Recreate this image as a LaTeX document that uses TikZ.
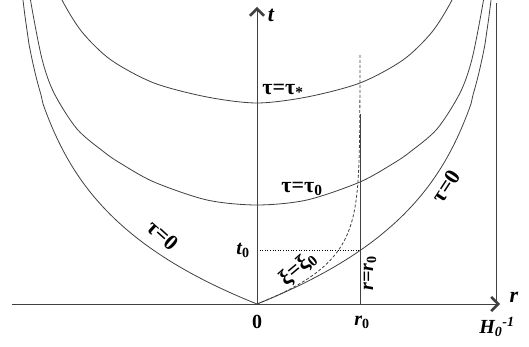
\documentclass[tikz,border=0pt]{standalone}
\usepackage{fontspec}
\setmainfont{Liberation Serif}
\usetikzlibrary{arrows.meta}
\begin{document}
\begin{tikzpicture}[x=1pt,y=1pt,
  curve/.style={line width=0.8pt, black!75},
  axisline/.style={line width=0.9pt, black!75},
  tip/.style={-{Straight Barb[length=7pt,width=14pt,line width=2.6pt]}},
  lab/.style={font=\fontsize{20}{20}\selectfont\bfseries, inner sep=0pt},
  glab/.style={font=\fontsize{22}{22}\selectfont\bfseries, inner sep=0pt}
]
\useasboundingbox (-257,-43) rectangle (272,304);
\coordinate (O) at (0,0);
\coordinate (rend) at (243,0);
\coordinate (rstart) at (-245,0);
\coordinate (tend) at (0,297);
\coordinate (Hb) at (239,0);
\coordinate (Ht) at (239,301);
\coordinate (r0b) at (103,0);
\coordinate (r0t) at (103,190);
\coordinate (t0) at (0,53.4);
\coordinate (p0) at (103,53.4);

\begin{scope}
\clip (-257,-43) rectangle (272,304);
\draw[curve] plot[domain=-236:236, samples=237] (\x, {-98*ln(1-abs(\x)/245)});
\draw[curve] plot[smooth] coordinates {(-228,320) (-226,301) (-215,245) (-203,211) (-180,175) (-153,152) (-137,141) (-103,122) (-50,104) (0,99) (50,104) (103,122) (137,141) (153,152) (180,175) (203,211) (215,245) (226,301) (228,320)};
\draw[curve] plot[smooth] coordinates {(-205,330) (-195,304) (-175,272) (-146,244) (-103,221) (-50,207) (0,201) (50,207) (103,221) (146,244) (175,272) (195,304) (205,330)};
\end{scope}

\draw[curve, dash pattern=on 3pt off 2pt] plot[domain=0:8.5, samples=140, variable=\u] ({103*(1-exp(-\u))}, {0.123*103*(1-exp(-\u)) + 28*\u});
\draw[line width=0.6pt, dotted] (t0) -- (p0);
\draw[curve] (r0b) -- (r0t);
\draw[curve] (Hb) -- (Ht);
\draw[axisline, tip] (rstart) -- (rend);
\draw[axisline, tip] (O) -- (tend);

\node[lab, font=\fontsize{22}{22}\selectfont\bfseries\itshape] (tl) at (14,289) {t};
\node[lab, font=\fontsize{22}{22}\selectfont\bfseries\itshape] (rl) at (257,7) {r};
\node[lab] (zl) at (0,-18) {0};
\node[lab] (r0l) at (105,-18) {\itshape r\textsubscript{\upshape 0}};
\node[lab] (Hl) at (240,-23) {\itshape H\textsubscript{0}\textsuperscript{-1}};
\node[lab] (t0l) at (-14,54) {\itshape t\textsubscript{\upshape 0}};
\node[glab] (taus) at (26,213) {τ=τ\textsubscript{*}};
\node[glab] (tau0) at (45,115) {τ=τ\textsubscript{0}};
\node[glab, rotate=-42] (tauL) at (-94,69) {τ=0};
\node[glab, rotate=57] (tauR) at (189,118) {τ=0};
\node[lab, rotate=90] (rr0) at (113,31) {\itshape r=r\textsubscript{\upshape 0}};
\node[glab, rotate=40] (xi) at (41,35) {ξ=ξ\textsubscript{0}};
\end{tikzpicture}
\end{document}
